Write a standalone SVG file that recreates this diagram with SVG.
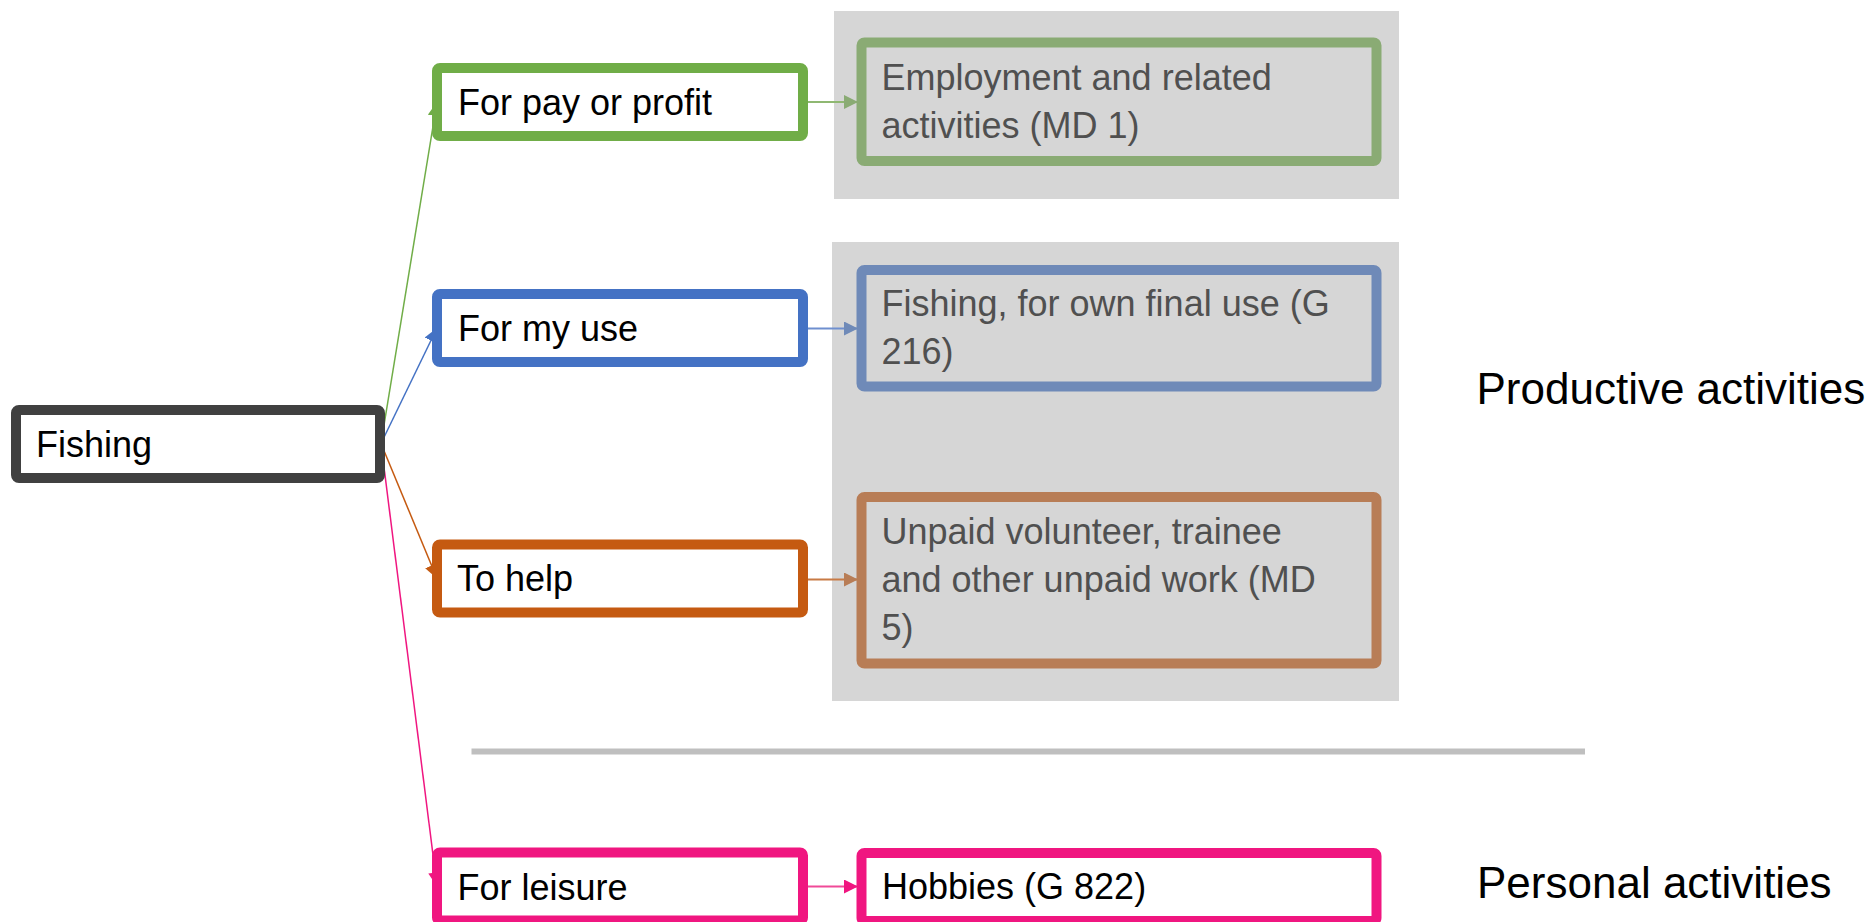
<svg xmlns="http://www.w3.org/2000/svg" width="1875" height="922" viewBox="0 0 1875 922">
  <defs>
    <style>
      .t { font-family: "Liberation Sans", Arial, sans-serif; font-size: 36px; fill: #000; }
      .g { fill: #505050; }
      .big { font-size: 44px; }
      .box { fill: #fff; stroke-width: 10; }
      .rbox { fill: none; stroke-width: 10; }
      .bg { fill: #d6d6d6; }
      .c { fill: none; stroke-width: 1.5; }
      .h { fill: none; stroke-width: 2; }
    </style>
    <marker id="aG" markerUnits="userSpaceOnUse" markerWidth="14" markerHeight="14" viewBox="0 0 14 14" refX="14" refY="7" orient="auto"><path d="M0,0 L14,7 L0,14 z" fill="#70ad47"/></marker>
    <marker id="aB" markerUnits="userSpaceOnUse" markerWidth="14" markerHeight="14" viewBox="0 0 14 14" refX="14" refY="7" orient="auto"><path d="M0,0 L14,7 L0,14 z" fill="#4472c4"/></marker>
    <marker id="aO" markerUnits="userSpaceOnUse" markerWidth="14" markerHeight="14" viewBox="0 0 14 14" refX="14" refY="7" orient="auto"><path d="M0,0 L14,7 L0,14 z" fill="#c55a11"/></marker>
    <marker id="aP" markerUnits="userSpaceOnUse" markerWidth="14" markerHeight="14" viewBox="0 0 14 14" refX="14" refY="7" orient="auto"><path d="M0,0 L14,7 L0,14 z" fill="#f01680"/></marker>
    <marker id="aG2" markerUnits="userSpaceOnUse" markerWidth="14" markerHeight="14" viewBox="0 0 14 14" refX="14" refY="7" orient="auto"><path d="M0,0 L14,7 L0,14 z" fill="#8aab74"/></marker>
    <marker id="aB2" markerUnits="userSpaceOnUse" markerWidth="14" markerHeight="14" viewBox="0 0 14 14" refX="14" refY="7" orient="auto"><path d="M0,0 L14,7 L0,14 z" fill="#6f8ab8"/></marker>
    <marker id="aO2" markerUnits="userSpaceOnUse" markerWidth="14" markerHeight="14" viewBox="0 0 14 14" refX="14" refY="7" orient="auto"><path d="M0,0 L14,7 L0,14 z" fill="#b87d56"/></marker>
  </defs>

  <rect width="1875" height="922" fill="#fff"/>

  <g id="backgrounds">
    <rect class="bg" x="834" y="11" width="565" height="188"/>
    <rect class="bg" x="832" y="242" width="567" height="459"/>
    <rect x="471.5" y="748.5" width="1113.5" height="6" fill="#bfbfbf"/>
  </g>

  <g id="connectors">
    <line class="c" x1="381" y1="443.5" x2="437" y2="102" stroke="#70ad47" marker-end="url(#aG)"/>
    <line class="c" x1="381" y1="443.5" x2="437" y2="328" stroke="#4472c4" marker-end="url(#aB)"/>
    <line class="c" x1="381" y1="443.5" x2="437" y2="578.5" stroke="#c55a11" marker-end="url(#aO)"/>
    <line class="c" x1="381" y1="443.5" x2="437" y2="886.5" stroke="#f01680" marker-end="url(#aP)"/>
    <line class="h" x1="808" y1="102" x2="858" y2="102" stroke="#8fb872" marker-end="url(#aG2)"/>
    <line class="h" x1="808" y1="328.5" x2="858" y2="328.5" stroke="#6f8fcf" marker-end="url(#aB2)"/>
    <line class="h" x1="808" y1="579.5" x2="858" y2="579.5" stroke="#c87a45" marker-end="url(#aO2)"/>
    <line class="h" x1="808" y1="886.5" x2="858" y2="886.5" stroke="#f04a98" marker-end="url(#aP)"/>
  </g>

  <g id="fishing">
    <rect class="box" x="16" y="410" width="364" height="68" rx="3" stroke="#404040"/>
    <text class="t" x="36" y="456.5">Fishing</text>
  </g>

  <g id="pay">
    <rect class="box" x="437" y="68" width="366" height="68" rx="3" stroke="#70ad47"/>
    <text class="t" x="458" y="115">For pay or profit</text>
  </g>
  <g id="myuse">
    <rect class="box" x="437" y="294" width="366" height="68" rx="3" stroke="#4472c4"/>
    <text class="t" x="458" y="340.5">For my use</text>
  </g>
  <g id="help">
    <rect class="box" x="437" y="544.5" width="366" height="68" rx="3" stroke="#c55a11"/>
    <text class="t" x="457" y="591">To help</text>
  </g>
  <g id="leisure">
    <rect class="box" x="437" y="852.5" width="366" height="68" rx="3" stroke="#f01680"/>
    <text class="t" x="457.5" y="900">For leisure</text>
  </g>

  <g id="employment">
    <rect class="rbox" x="861.5" y="42.5" width="515" height="118.5" rx="3" stroke="#8aab74"/>
    <text class="t g" x="881.5" y="89.5">Employment and related</text>
    <text class="t g" x="881.5" y="137.5">activities (MD 1)</text>
  </g>
  <g id="ownuse">
    <rect class="rbox" x="861.5" y="270" width="515" height="116.5" rx="3" stroke="#6f8ab8"/>
    <text class="t g" x="881.5" y="316">Fishing, for own final use (G</text>
    <text class="t g" x="881.5" y="364">216)</text>
  </g>
  <g id="unpaid">
    <rect class="rbox" x="861.5" y="497" width="515" height="166.5" rx="3" stroke="#b87d56"/>
    <text class="t g" x="881.5" y="543.5">Unpaid volunteer, trainee</text>
    <text class="t g" x="881.5" y="591.5">and other unpaid work (MD</text>
    <text class="t g" x="881.5" y="639.5">5)</text>
  </g>
  <g id="hobbies">
    <rect class="box" x="861.5" y="853" width="515" height="68" rx="3" stroke="#f01680"/>
    <text class="t" x="882" y="899">Hobbies (G 822)</text>
  </g>

  <g id="labels">
    <text class="t big" x="1476.5" y="403.5">Productive activities</text>
    <text class="t big" x="1477" y="897.5">Personal activities</text>
  </g>
</svg>
